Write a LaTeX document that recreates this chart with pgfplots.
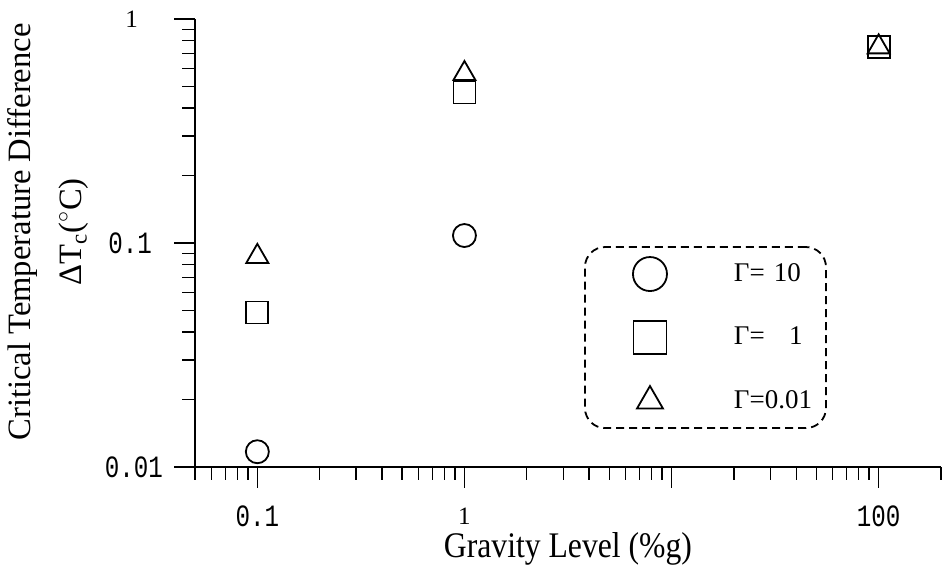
\documentclass[border=0pt]{standalone}
\usepackage{fontspec}
\setmainfont{Liberation Serif}
\newfontfamily\tickmono{Liberation Mono}[FakeStretch=0.78]
\newfontfamily\xlabfont{Liberation Serif}[FakeStretch=0.88]
\usepackage{pgfplots}
\pgfplotsset{compat=1.18}
\newcommand{\tm}[1]{\mbox{\fontsize{15.5}{17}\tickmono #1}}
\newcommand{\ts}[1]{\mbox{\fontsize{12.5}{14}\selectfont #1}}
\begin{document}
\begin{tikzpicture}
\path[use as bounding box] (-97.5pt,-50.5pt) rectangle (373.5pt,233.5pt);
\begin{axis}[
  at={(0pt,0pt)}, anchor=south west,
  scale only axis, width=373pt, height=224pt,
  xmode=log, ymode=log,
  xmin=0.05, xmax=200, ymin=0.01, ymax=1,
  axis lines=left, axis line style={-, line width=1pt},
  tick align=outside,
  major tick length=10.5pt, minor tick length=6.5pt,
  every tick/.style={black, line width=0.7pt},
  xtick={0.1,1,10,100},
  xticklabels={\tm{0.1}, \ts{1}, {}, \tm{100}},
  minor xtick={0.05,0.06,0.07,0.08,0.09,0.2,0.3,0.4,0.5,0.6,0.7,0.8,0.9,2,3,4,5,6,7,8,9,20,30,40,50,60,70,80,90,200},
  ytick={0.01,0.1,1},
  yticklabels={\tm{0.01}, \mbox{\tm{0.1}\hspace{5.5pt}}, \mbox{\ts{1}\hspace{12.5pt}}},
  minor ytick={0.02,0.03,0.04,0.05,0.06,0.07,0.08,0.09,0.2,0.3,0.4,0.5,0.6,0.7,0.8,0.9},
  xticklabel style={anchor=center, yshift=-14pt},
  yticklabel style={anchor=east, xshift=-2pt},
  xlabel={Gravity Level (\%g)},
  xlabel style={at={(axis description cs:0.5,-0.183)}, anchor=center, font=\xlabfont\fontsize{18}{20}\selectfont},
  ylabel={Critical Temperature Difference\\[6pt]ΔT\textsubscript{c}($^\circ$C)},
  ylabel style={at={(axis description cs:-0.197,0.5246)}, anchor=center, align=center, font=\fontsize{16.3}{19.5}\selectfont},
  legend style={at={(axis description cs:0.6843,0.289)}, anchor=center, draw=black, line width=0.9pt, dash pattern=on 4pt off 2.5pt, rounded corners=10pt, inner xsep=0pt, inner ysep=0pt, row sep=4.75pt, nodes={inner sep=0pt, text width=46pt, align=left, font=\fontsize{13.5}{15}\selectfont}},
  legend cell align=left,
  legend image code/.code={\path[draw=none,fill=none] (-32.5pt,-13.5pt) rectangle (42pt,13.5pt); \draw[solid,sharp corners,#1] plot coordinates {(0pt,0pt)};},
]
\addplot[black, only marks, mark=o, mark size=5.75pt, mark options={solid, line width=0.9pt}, legend image post style={mark size=8.5pt}] coordinates {(0.1,0.0117) (1,0.108)};
\addlegendentry{Γ=\ 10}
\addplot[black, only marks, mark=square, mark size=5.5pt, mark options={solid, line width=0.9pt}, legend image post style={mark size=8.25pt}] coordinates {(0.1,0.049) (1,0.47) (100,0.75)};
\addlegendentry{Γ=\hspace{0.9em}1}
\addplot[black, only marks, mark=triangle, mark size=6.35pt, mark options={solid, line width=0.9pt}, legend image post style={mark size=7.5pt}] coordinates {(0.1,0.087) (1,0.57) (100,0.75)};
\addlegendentry{Γ=0.01}
\end{axis}
\end{tikzpicture}
\end{document}
